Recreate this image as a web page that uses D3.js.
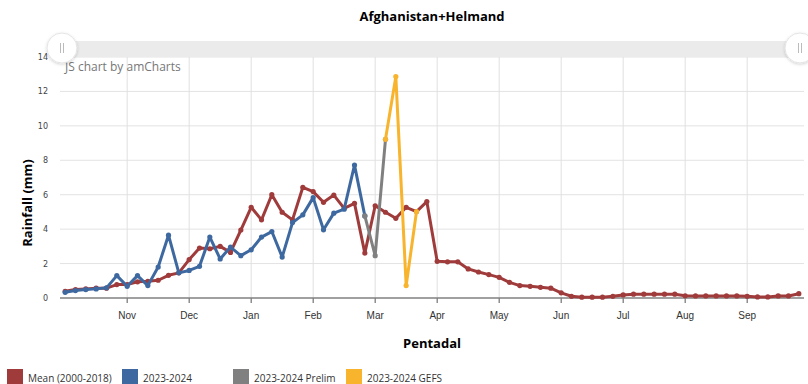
<!DOCTYPE html>
<html>
<head>
<meta charset="utf-8">
<script src="https://cdn.jsdelivr.net/npm/d3@7"></script>
<style>
  html, body { margin: 0; padding: 0; background: #fff; }
  svg { display: block; font-family: "Open Sans", "DejaVu Sans", sans-serif; }
</style>
</head>
<body>
<svg id="chart" width="808" height="384"></svg>
<script>
// Pentads of the season, October through September (6 per month)
const months = ["Oct", "Nov", "Dec", "Jan", "Feb", "Mar", "Apr", "May", "Jun", "Jul", "Aug", "Sep"];
const pentads = months.flatMap(m => d3.range(1, 7).map(p => `${m}-${p}`));

// Month labels shown on the axis (placed at each month's first pentad)
const monthTicks = ["Nov", "Dec", "Jan", "Feb", "Mar", "Apr", "May", "Jun", "Jul", "Aug", "Sep"];
const yTicks = [0, 2, 4, 6, 8, 10, 12, 14];

// Long-term mean rainfall per pentad (mm)
const meanValues = [
  0.39, 0.49, 0.53, 0.57, 0.57, 0.78, 0.78, 0.94, 0.97, 1.03, 1.32, 1.46,
  2.23, 2.90, 2.86, 3.00, 2.65, 3.95, 5.27, 4.54, 6.00, 4.98, 4.54, 6.43,
  6.18, 5.56, 5.98, 5.21, 5.50, 2.61, 5.36, 4.98, 4.63, 5.27, 5.02, 5.60,
  2.13, 2.10, 2.10, 1.69, 1.51, 1.36, 1.20, 0.91, 0.72, 0.68, 0.62, 0.57,
  0.30, 0.10, 0.05, 0.05, 0.05, 0.10, 0.18, 0.22, 0.22, 0.22, 0.22, 0.22,
  0.13, 0.12, 0.12, 0.12, 0.12, 0.12, 0.10, 0.06, 0.06, 0.12, 0.12, 0.25
];

// Current season, observed (from Oct-1)
const obsStart = 0;
const obsValues = [
  0.33, 0.43, 0.49, 0.53, 0.59, 1.30, 0.68, 1.30, 0.72, 1.80, 3.65, 1.46,
  1.60, 1.84, 3.54, 2.27, 2.96, 2.46, 2.80, 3.54, 3.86, 2.38, 4.38, 4.83,
  5.83, 3.96, 4.93, 5.16, 7.72, 4.77
];

// Preliminary estimates
const prelimStart = 29;
const prelimValues = [4.77, 2.46, 9.22];

// GEFS forecast
const gefsStart = 31;
const gefsValues = [9.22, 12.86, 0.72, 5.02];

const seriesNames = ["Mean (2000-2018)", "2023-2024", "2023-2024 Prelim", "2023-2024 GEFS"];
const seriesColors = ["#a03b3b", "#3e69a0", "#808080", "#f7b42c"];

const svg = d3.select("#chart");
const plot = { left: 60, right: 804, top: 57, bottom: 298 };

const x = d3.scaleBand().domain(pentads).range([plot.left, plot.right]);
const cx = c => x(c) + x.bandwidth() / 2;
const y = d3.scaleLinear().domain([0, 14]).range([plot.bottom, plot.top]);

// Title
svg.append("text")
  .attr("x", (plot.left + plot.right) / 2).attr("y", 21)
  .attr("text-anchor", "middle")
  .attr("font-size", 13).attr("font-weight", "bold").attr("fill", "#000")
  .text("Afghanistan+Helmand");

// Horizontal grid + y labels
const yAxis = d3.axisLeft(y).tickValues(yTicks).tickSize(0).tickPadding(0);
const gy = svg.append("g").attr("transform", `translate(${plot.left - 12},0)`).call(yAxis);
gy.select(".domain").remove();
gy.selectAll("text").attr("font-size", 8).attr("fill", "#444")
  .attr("font-family", "'DejaVu Sans', sans-serif");

svg.append("g").selectAll("line").data(yTicks.filter(v => v > 0)).join("line")
  .attr("x1", plot.left).attr("x2", plot.right)
  .attr("y1", d => y(d)).attr("y2", d => y(d))
  .attr("stroke", "#e3e3e3").attr("stroke-width", 1);

// Vertical grid at month starts
const tickCats = monthTicks.map(m => `${m}-1`);
svg.append("g").selectAll("line").data(tickCats).join("line")
  .attr("x1", d => cx(d)).attr("x2", d => cx(d))
  .attr("y1", plot.top).attr("y2", plot.bottom)
  .attr("stroke", "#e0e0e0").attr("stroke-width", 1);

// Credit label
svg.append("text")
  .attr("x", 65).attr("y", 71)
  .attr("font-size", 12).attr("fill", "#777")
  .text("JS chart by amCharts");

// Bottom axis
const xAxis = d3.axisBottom(x).tickValues(tickCats)
  .tickFormat(d => d.split("-")[0]).tickSize(5).tickPadding(9);
const gx = svg.append("g").attr("transform", `translate(0,${plot.bottom})`).call(xAxis);
gx.select(".domain").remove();
gx.selectAll(".tick line").attr("stroke", "#555");
gx.selectAll("text").attr("font-size", 10).attr("fill", "#333");
svg.append("line")
  .attr("x1", plot.left).attr("x2", plot.right)
  .attr("y1", plot.bottom).attr("y2", plot.bottom)
  .attr("stroke", "#808080").attr("stroke-width", 1.5);

// Axis titles
svg.append("text")
  .attr("x", (plot.left + plot.right) / 2).attr("y", 348)
  .attr("text-anchor", "middle").attr("font-size", 13).attr("font-weight", "bold")
  .text("Pentadal");
svg.append("text")
  .attr("transform", "translate(32,203) rotate(-90)")
  .attr("text-anchor", "middle").attr("font-size", 13).attr("font-weight", "bold")
  .text("Rainfall (mm)");

// Series
const toPoints = (vals, start) => vals.map((v, i) => ({ c: pentads[start + i], v }));
const series = [
  toPoints(meanValues, 0),
  toPoints(obsValues, obsStart),
  toPoints(prelimValues, prelimStart),
  toPoints(gefsValues, gefsStart)
];
const line = d3.line().x(d => cx(d.c)).y(d => y(d.v));

// draw order: mean, observed, prelim, forecast
series.forEach((pts, k) => {
  const g = svg.append("g");
  g.append("path").datum(pts)
    .attr("d", line).attr("fill", "none")
    .attr("stroke", seriesColors[k]).attr("stroke-width", 3)
    .attr("stroke-linejoin", "round");
  g.selectAll("circle").data(pts).join("circle")
    .attr("cx", d => cx(d.c)).attr("cy", d => y(d.v)).attr("r", 2.6)
    .attr("fill", seriesColors[k]);
});

// Scrollbar at the top
const defs = svg.append("defs");
const f = defs.append("filter").attr("id", "gripShadow")
  .attr("x", "-50%").attr("y", "-50%").attr("width", "200%").attr("height", "200%");
f.append("feDropShadow").attr("dx", 0).attr("dy", 1).attr("stdDeviation", 1.5)
  .attr("flood-color", "#000").attr("flood-opacity", 0.18);

svg.append("rect")
  .attr("x", 62).attr("y", 41).attr("width", 738).attr("height", 16)
  .attr("fill", "#ebebeb");
[62, 800].forEach(gxp => {
  const grip = svg.append("g").attr("transform", `translate(${gxp},48)`);
  grip.append("circle").attr("r", 15).attr("fill", "#fff")
    .attr("stroke", "#e4e4e4").attr("filter", "url(#gripShadow)");
  [-1.5, 1.5].forEach(dx => grip.append("line")
    .attr("x1", dx).attr("x2", dx).attr("y1", -5).attr("y2", 5)
    .attr("stroke", "#bbb").attr("stroke-width", 1));
});

// Legend
const legendX = [7, 122, 233, 346];
const lg = svg.append("g");
seriesNames.forEach((name, k) => {
  lg.append("rect").attr("x", legendX[k]).attr("y", 369)
    .attr("width", 16).attr("height", 16).attr("fill", seriesColors[k]);
  lg.append("text").attr("x", legendX[k] + 21).attr("y", 382)
    .attr("font-size", 10).attr("fill", "#333").text(name);
});
</script>
</body>
</html>
